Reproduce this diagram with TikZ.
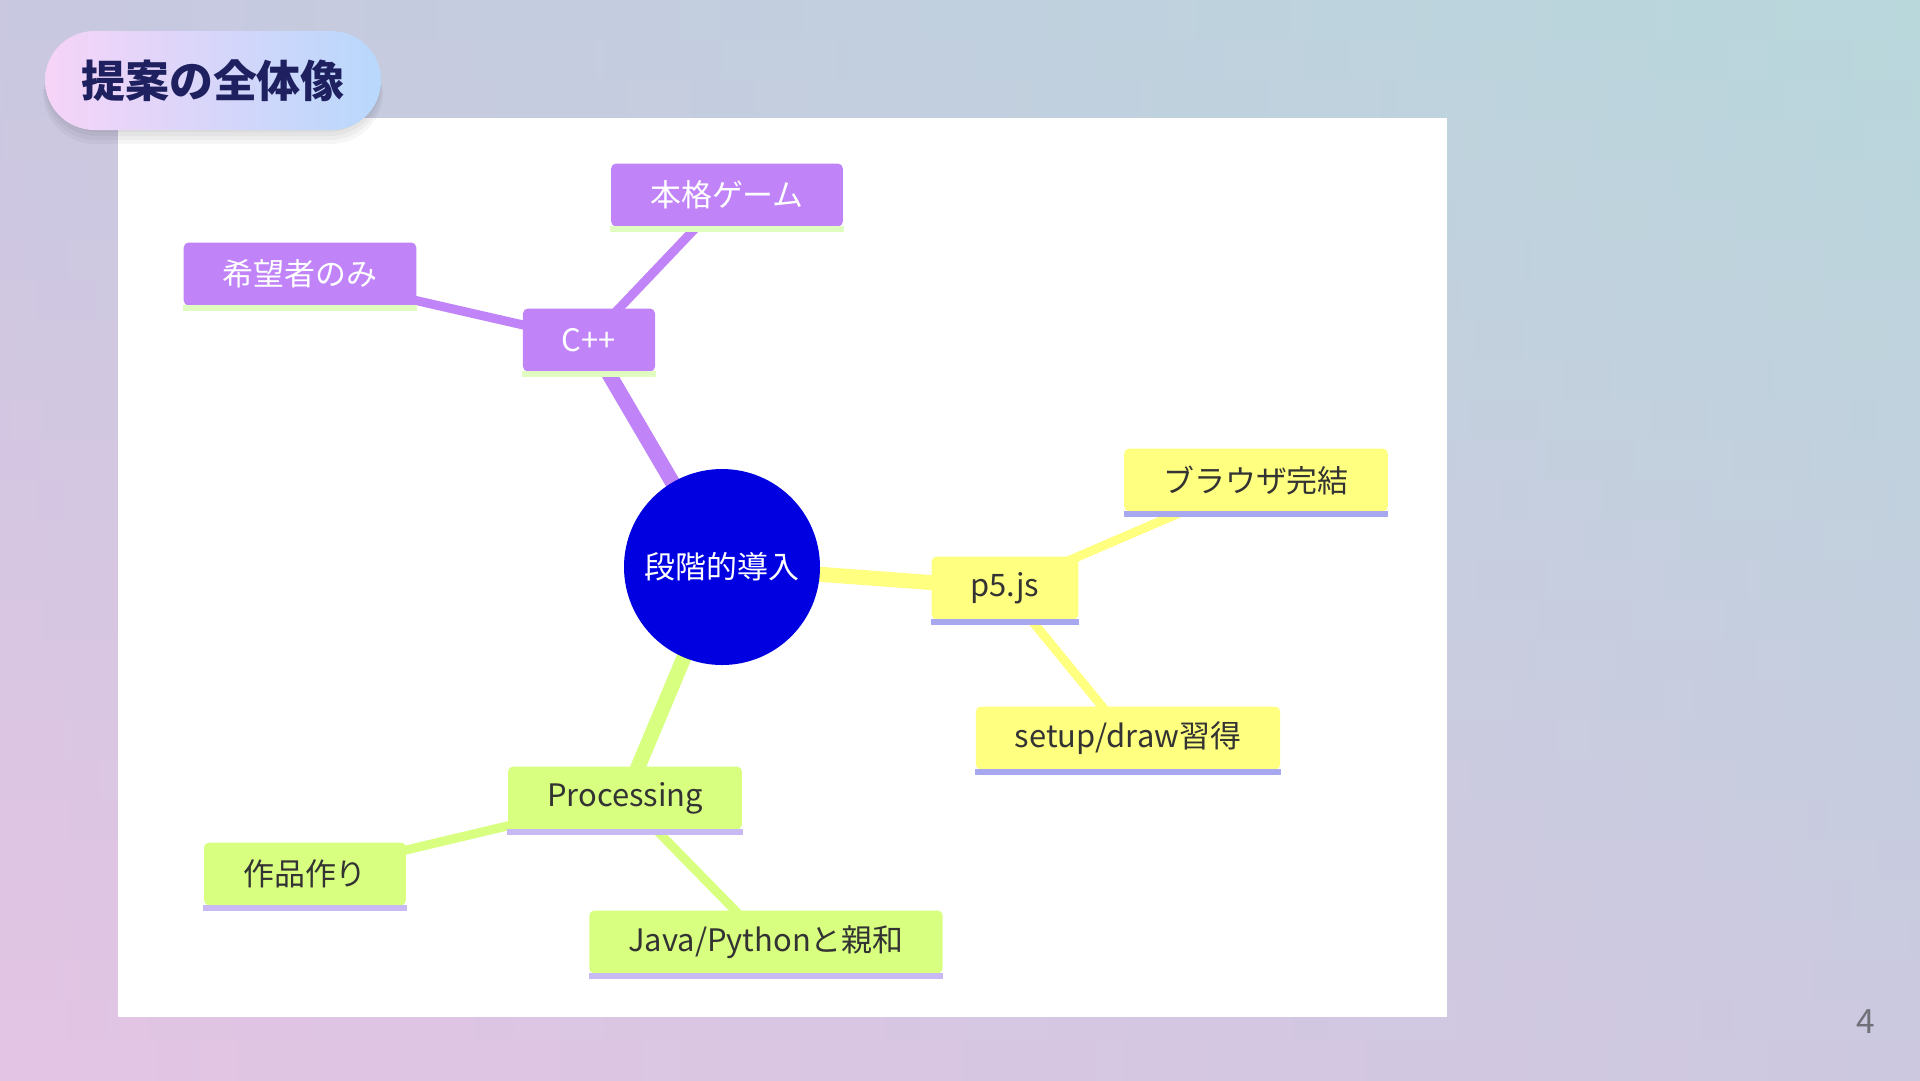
\documentclass[tikz,border=0pt]{standalone}
\usepackage{fontspec}
\setmainfont{Noto Sans CJK JP}

\definecolor{bgtl}{HTML}{C8C8E0}
\definecolor{bgtr}{HTML}{B8D8DC}
\definecolor{bgbl}{HTML}{E4C4E4}
\definecolor{bgbr}{HTML}{CCC8E0}
\definecolor{pillpink}{HTML}{F6D4F8}
\definecolor{pillblue}{HTML}{B8D8FC}
\definecolor{titleblue}{HTML}{1E2060}
\definecolor{rootblue}{HTML}{0000E0}
\definecolor{cppfill}{HTML}{C084F8}
\definecolor{cppline}{HTML}{E0FCC0}
\definecolor{p5fill}{HTML}{FFFF80}
\definecolor{p5line}{HTML}{A8A8F0}
\definecolor{procfill}{HTML}{D8FF80}
\definecolor{procline}{HTML}{C8B8F4}
\definecolor{darktext}{HTML}{333333}
\definecolor{pagegray}{HTML}{707078}

\pgfdeclarelayer{back}
\pgfdeclarelayer{edges}
\pgfsetlayers{back,edges,main}

\tikzset{
  branch/.style={rectangle, rounded corners=0.5mm, minimum height=6.3mm,
    inner xsep=3.9mm, inner ysep=0pt, font=\fontsize{8.8}{10}\selectfont},
  cppnode/.style={branch, fill=cppfill, text=white},
  p5node/.style={branch, fill=p5fill, text=darktext},
  procnode/.style={branch, fill=procfill, text=darktext},
  trunk/.style={line width=1.5mm},
  twig/.style={line width=0.9mm},
}

\begin{document}
\begin{tikzpicture}[x=0.1mm, y=-0.1mm]
  \useasboundingbox (0,0) rectangle (1920,1080);

  \begin{pgfonlayer}{back}
    % background gradient, in strips
    \foreach \i in {0,...,26} {
      \pgfmathtruncatemacro\p{round(100*(\i+0.5)/27)}
      \shade[left color=bgbl!\p!bgtl, right color=bgbr!\p!bgtr]
        (0,\i*40-1) rectangle (1920,\i*40+41);
    }
    \fill[white] (118,118) rectangle (1447,1017);
  \end{pgfonlayer}

  % title
  \foreach \s in {1,2,3,4}
    \fill[black, fill opacity=0.035, rounded corners=5.2mm]
      (47-\s,33+\s*3) rectangle (379+\s,128+\s*4);
  \node[rounded corners=4.95mm, minimum width=33.6mm, minimum height=9.9mm,
    left color=pillpink, right color=pillblue, text=titleblue,
    font=\fontsize{12.5}{14}\selectfont\bfseries]
    (title) at (213,80.5) {提案の全体像};

  % mindmap
  \node[circle, fill=rootblue, minimum size=19.6mm, inner sep=0pt, text=white,
    font=\fontsize{8.8}{10}\selectfont] (root) at (722,567) {段階的導入};

  \node[cppnode] (cpp) at (589,340) {C++};
  \node[cppnode] (game) at (727,195) {本格ゲーム};
  \node[cppnode] (wish) at (300,274) {希望者のみ};

  \node[p5node] (p5) at (1005,588) {p5.js};
  \node[p5node] (browser) at (1256,480) {ブラウザ完結};
  \node[p5node] (setup) at (1128,738) {setup/draw習得};

  \node[procnode] (proc) at (625,798) {Processing};
  \node[procnode] (works) at (305,874) {作品作り};
  \node[procnode] (java) at (766,942) {Java/Pythonと親和};

  \foreach \n/\c in {cpp/cppline, game/cppline, wish/cppline,
                     p5/p5line, browser/p5line, setup/p5line,
                     proc/procline, works/procline, java/procline}
    \fill[\c] ([yshift=0.1mm]\n.south west) rectangle ([yshift=-0.5mm]\n.south east);

  \begin{pgfonlayer}{edges}
    \draw[trunk, cppfill] (root.center) -- (cpp.center);
    \draw[twig, cppfill] (cpp.center) -- (game.center);
    \draw[twig, cppfill] (cpp.center) -- (wish.center);
    \draw[trunk, p5fill] (root.center) -- (p5.center);
    \draw[twig, p5fill] (p5.center) -- (browser.center);
    \draw[twig, p5fill] (p5.center) -- (setup.center);
    \draw[trunk, procfill] (root.center) -- (proc.center);
    \draw[twig, procfill] (proc.center) -- (works.center);
    \draw[twig, procfill] (proc.center) -- (java.center);
  \end{pgfonlayer}

  \node[text=pagegray, font=\fontsize{9.5}{11}\selectfont] (page) at (1866,1022) {4};
\end{tikzpicture}
\end{document}
